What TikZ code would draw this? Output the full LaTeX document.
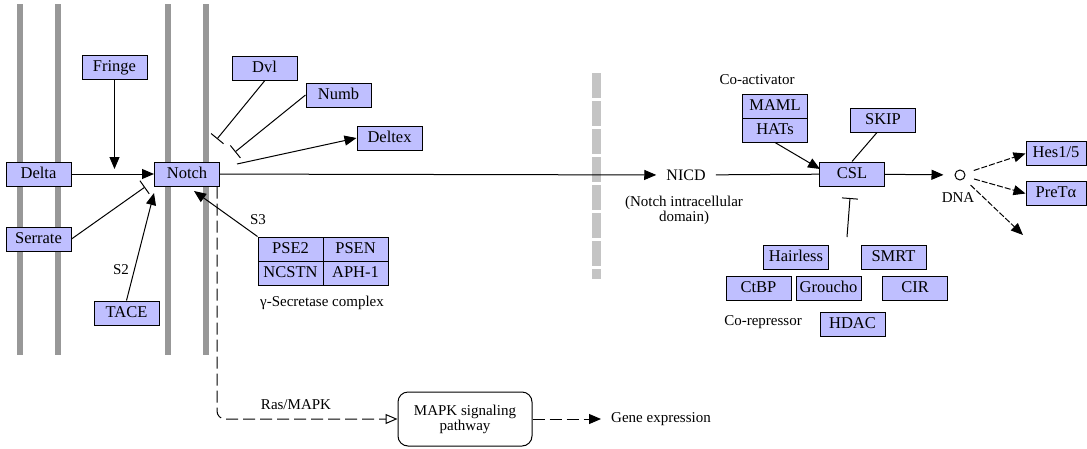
\documentclass[tikz,border=0pt]{standalone}
\usepackage{fontspec}
\setmainfont{Liberation Serif}
\usetikzlibrary{arrows.meta}
\definecolor{genefill}{HTML}{BFBFFF}
\definecolor{membrane}{HTML}{989898}
\definecolor{nucmembrane}{HTML}{C4C4C4}
\begin{document}
\begin{tikzpicture}[x=1pt,y=-1pt,
  font=\fontsize{15}{15}\selectfont,
  gene/.style={draw=black, fill=genefill, line width=1pt,
    minimum width=65pt, minimum height=24pt, inner sep=0pt,
    font=\fontsize{16.5}{16.5}\selectfont,
    text height=11pt, text depth=3pt},
  lbl/.style={inner sep=0pt, align=center},
  conn/.style={draw=black, line width=1pt},
  act/.style={conn, -{Triangle[length=12pt,width=10pt]}},
  inh/.style={conn, -{Bar[width=16pt]}},
  dact/.style={act, dash pattern=on 6pt off 2pt, shorten <=9pt},
  dashconn/.style={conn, dash pattern=on 12pt off 5pt}]

% canvas
\useasboundingbox (0,0) rectangle (1087,448);
\fill[white] (0,0) rectangle (1087,448);

% cell membranes
\foreach \mx in {20,58,168,206}
  \fill[membrane] (\mx-3,4) rectangle (\mx+3,355);

% nuclear membrane (dashed bar)
\foreach \k in {0,...,6}
  \fill[nucmembrane] (592,73+28*\k) rectangle (601,98+28*\k);
\fill[nucmembrane] (592,269) rectangle (601,279);

% gene products
\node[gene] (fringe)   at (114.5,67.5) {Fringe};
\node[gene] (delta)    at (38.5,174)   {Delta};
\node[gene] (notch)    at (187,174)    {Notch};
\node[gene] (serrate)  at (38.5,239)   {Serrate};
\node[gene] (tace)     at (126.5,313)  {TACE};
\node[gene] (dvl)      at (264.5,68.5) {Dvl};
\node[gene] (numb)     at (338.5,95)   {Numb};
\node[gene] (deltex)   at (389.5,138)  {Deltex};
\node[gene] (pse2)     at (290.5,249)  {PSE2};
\node[gene] (psen)     at (355.5,249)  {PSEN};
\node[gene] (ncstn)    at (290.5,273)  {NCSTN};
\node[gene] (aph)      at (355.5,273)  {APH-1};
\node[gene] (maml)     at (775,106)    {MAML};
\node[gene] (hats)     at (775,130)    {HATs};
\node[gene] (skip)     at (883,120)    {SKIP};
\node[gene] (csl)      at (852,174)    {CSL};
\node[gene] (hairless) at (796,257)    {Hairless};
\node[gene] (smrt)     at (893.5,257)  {SMRT};
\node[gene] (ctbp)     at (758.5,288.5){CtBP};
\node[gene] (groucho)  at (828.5,288.5){Groucho};
\node[gene] (cir)      at (915,288.5)  {CIR};
\node[gene] (hdac)     at (852.5,324)  {HDAC};
\node[gene, minimum width=60pt] (hes)  at (1056,153.5) {Hes1/5};
\node[gene, minimum width=60pt] (pret) at (1056,193.5) {PreTα};

% text labels
\node[lbl] (coact)    at (757,80)    {Co-activator};
\node[lbl] (corep)    at (763,322)   {Co-repressor};
\node[lbl] (gsec)     at (322,303)   {γ-Secretase complex};
\node[lbl] (nicd)     at (686,175)   [inner xsep=10pt, font=\fontsize{16}{16}\selectfont] {NICD};
\node[lbl] (nicddesc) at (684,210.5) {(Notch intracellular\\domain)};
\node[lbl] (s2)       at (121,270)   {S2};
\node[lbl] (s3)       at (258,220)   {S3};
\node[lbl] (dnalbl)   at (958,198)   {DNA};
\node[lbl] (ras)      at (296,405)   {Ras/MAPK};
\node[draw=black, fill=white, line width=1pt, rounded corners=10pt,
      minimum width=134pt, minimum height=54pt, align=center]
      (mapk) at (465,419) {MAPK signaling\\pathway};
\node[lbl, anchor=west, inner xsep=10pt] (gene) at (601,419) {Gene expression};
\node[circle, draw=black, fill=white, line width=1pt,
      minimum size=10pt, inner sep=0pt] (dna) at (960,175) {};

% free ends of connectors
\coordinate (fringeTip)   at (114.5,169);
\coordinate (serrEnd)     at (145,187);
\coordinate (taceTip)     at (154,193);
\coordinate (s3Tip)       at (194,191);
\coordinate (dvlEnd)      at (217,139);
\coordinate (numbEnd)     at (235,152);
\coordinate (deltexStart) at (237,164);
\coordinate (hatsTip)     at (820,169);
\coordinate (cslInhStart) at (847,237);
\coordinate (cslBar)      at (850,198);
\coordinate (thirdTip)    at (1023,235);

% extracellular and membrane events
\draw[act] (fringe.south) -- (fringeTip);
\draw[act] (delta) -- (notch);
\draw[inh] (serrate.east) -- (serrEnd);
\draw[act] (tace.north) -- (taceTip);
\draw[act] (pse2.north west) -- (s3Tip);
\draw[inh] (dvl.south) -- (dvlEnd);
\draw[inh] (numb.west) -- (numbEnd);
\draw[act] (deltexStart) -- (deltex.west);

% nuclear signalling
\draw[act] (notch) -- (nicd);
\draw[conn] (nicd) -- (csl);
\draw[act] (hats.south) -- (hatsTip);
\draw[conn] ([xshift=-6pt]skip.south) -- (csl.north);
\draw[inh] (cslInhStart) -- (cslBar);
\draw[act, shorten >=11pt] (csl) -- (dna);
\draw[dact] (dna) -- (hes.west);
\draw[dact] (dna) -- (pret.west);
\draw[dact] (dna) -- (thirdTip);

% MAPK branch
\draw[dashconn, rounded corners=8pt, -{Triangle[open,length=12pt,width=10pt]}]
  ([xshift=30pt]notch.south) |- (mapk.west);
\draw[dashconn, -{Triangle[length=12pt,width=10pt]}] (mapk) -- (gene);
\end{tikzpicture}
\end{document}
